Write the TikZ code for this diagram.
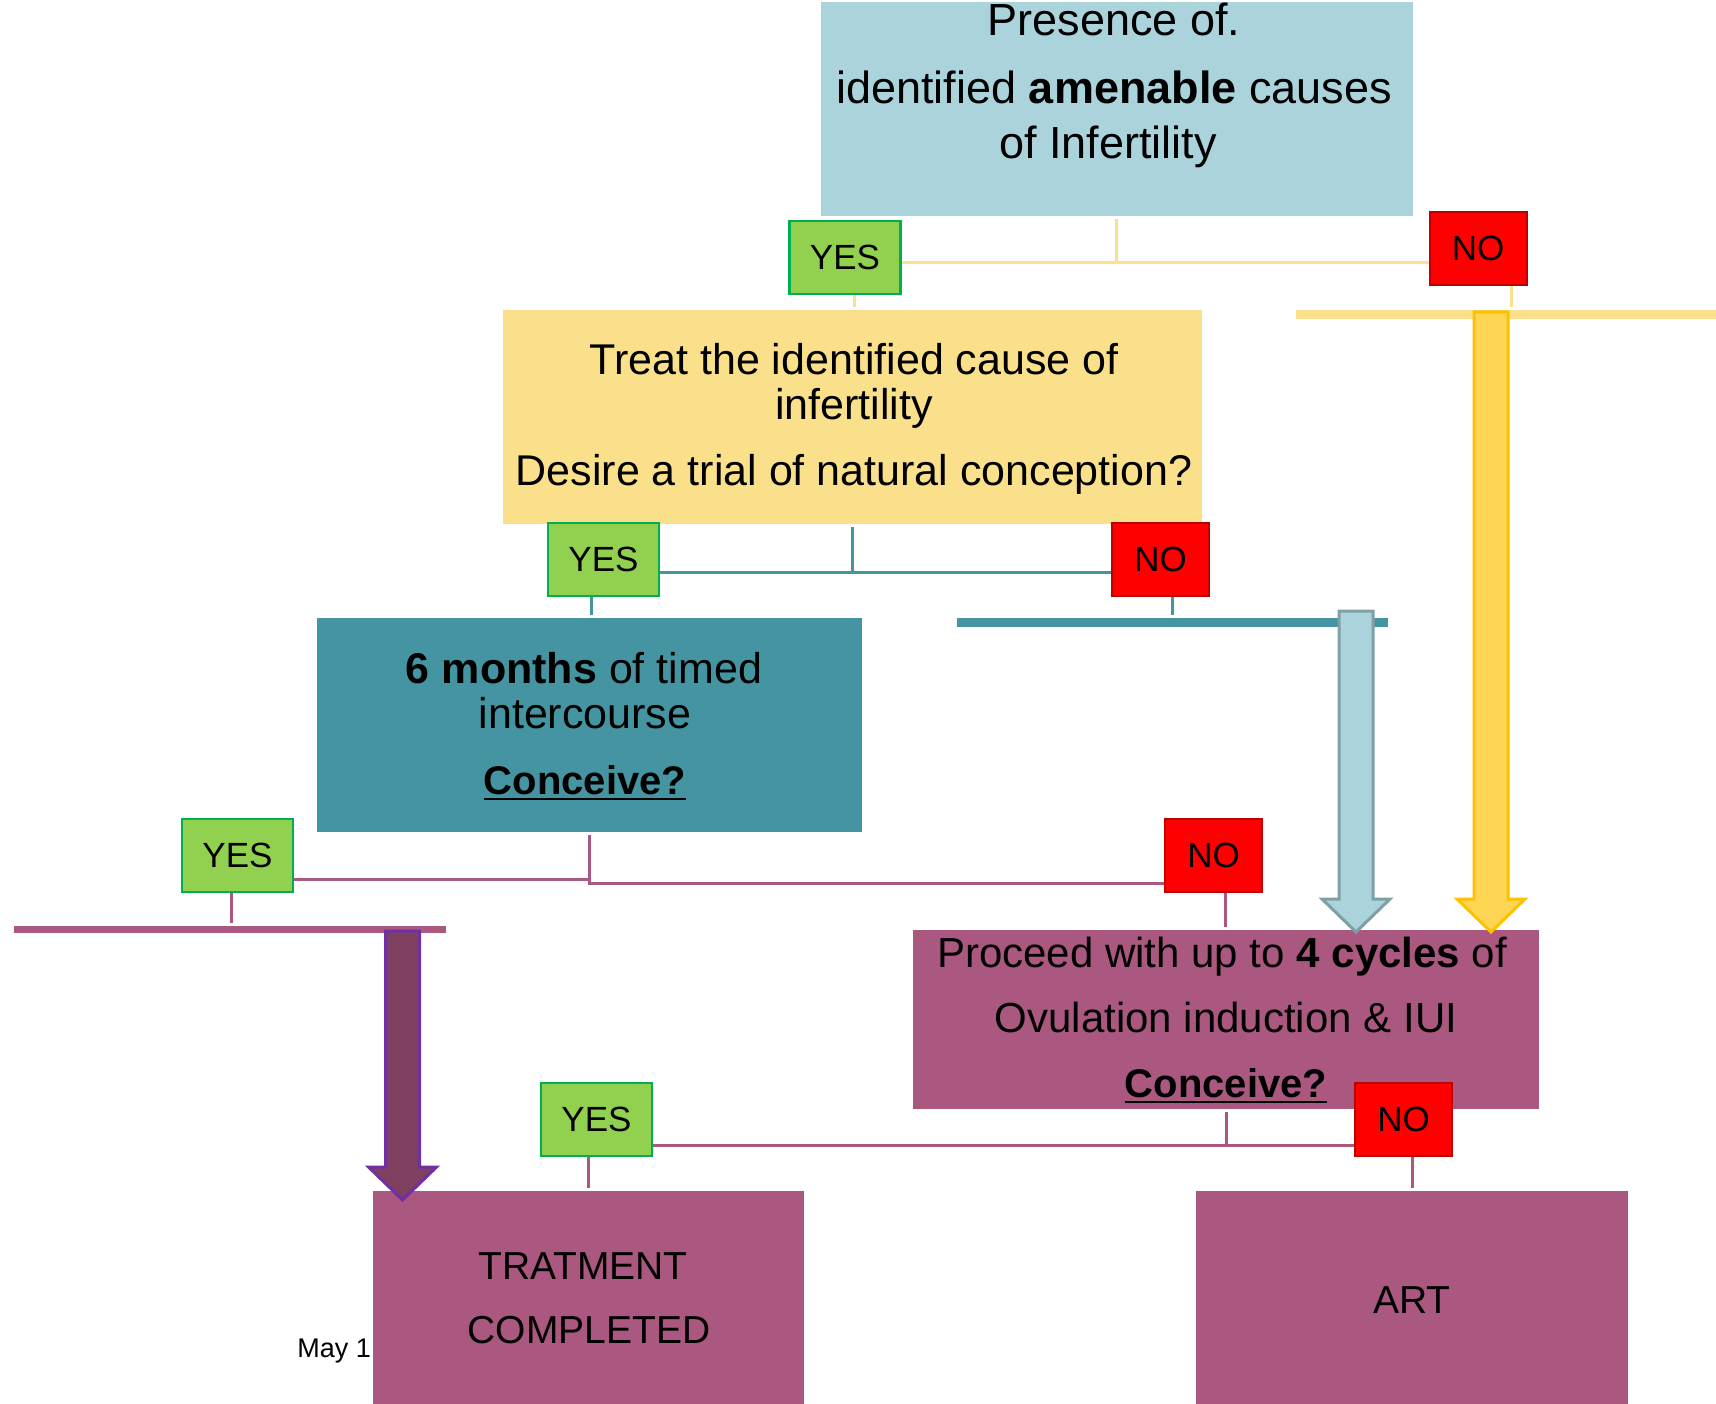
\documentclass[tikz,border=0pt]{standalone}
\usepackage{fontspec}
\setmainfont{Liberation Sans}
\usetikzlibrary{positioning}

\definecolor{causeblue}{HTML}{AAD3DB}
\definecolor{treatyellow}{HTML}{FAE08A}
\definecolor{linkyellow}{HTML}{FBE18E}
\definecolor{arrowyellow}{HTML}{FFD654}
\definecolor{arrowyellowedge}{HTML}{FFC000}
\definecolor{arrowblueedge}{HTML}{7F9FA6}
\definecolor{tealbox}{HTML}{4495A1}
\definecolor{mauve}{HTML}{AA5880}
\definecolor{arrowpurple}{HTML}{80405F}
\definecolor{arrowpurpleedge}{HTML}{7030A0}
\definecolor{yesgreen}{HTML}{92D050}
\definecolor{yesedge}{HTML}{00B050}
\definecolor{nored}{HTML}{FF0000}
\definecolor{noedge}{HTML}{C00000}

% thick underline for the questions
\newbox\ulbox
\newcommand{\ulword}[1]{\setbox\ulbox=\hbox{#1}\rlap{\vrule height -3.8pt depth 6.3pt width \wd\ulbox}\box\ulbox}

% block arrow pointing down: style, x, top, tip
\newcommand{\blockarrow}[4]{%
  \draw[#1] (#2-17,#3) -- (#2+17,#3) -- (#2+17,#4-33) -- (#2+34,#4-33)
    -- (#2,#4) -- (#2-34,#4-33) -- (#2-17,#4-33) -- cycle;}

\begin{document}
\begin{tikzpicture}[x=1pt,y=-1pt,
    box/.style={draw=none,inner sep=0pt,minimum height=214pt},
    txt/.style={anchor=base,inner sep=0pt},
    yeslab/.style={fill=yesgreen,draw=yesedge,line width=2.5pt,inner sep=0pt,
      minimum width=111pt,minimum height=73pt,font=\fontsize{35}{40}\selectfont},
    nolab/.style={fill=nored,draw=noedge,line width=2pt,inner sep=0pt,
      minimum width=97pt,minimum height=73pt,font=\fontsize{35}{40}\selectfont},
    bar/.style={inner sep=0pt,minimum height=9pt},
    link/.style={line width=3pt},
    bigarrow/.style={line width=3pt,line join=miter}]
    \useasboundingbox (0,0) rectangle (1716,1404);

    % boxes
    \node[box,fill=causeblue,minimum width=592pt] (cause) at (1117,109) {};
    \node[txt,font=\fontsize{45}{54}\selectfont] (causeA) at (1114,36) {Presence of.};
    \node[txt,font=\fontsize{45}{54}\selectfont] (causeB) at (1114,104) {identified \textbf{amenable} causes};
    \node[txt,font=\fontsize{45}{54}\selectfont] (causeC) at (1108,159) {of Infertility};

    \node[box,fill=treatyellow,minimum width=699pt] (treat) at (852.5,417) {};
    \node[txt,font=\fontsize{43}{46}\selectfont] (treatA) at (854,374) {Treat the identified cause of};
    \node[txt,font=\fontsize{43}{46}\selectfont] (treatB) at (854,420) {infertility};
    \node[txt,font=\fontsize{43}{46}\selectfont] (treatC) at (854,485) {Desire a trial of natural conception?};

    \node[box,fill=tealbox,minimum width=545pt] (months) at (589.5,725) {};
    \node[txt,font=\fontsize{43}{46}\selectfont] (monthsA) at (584,683) {\textbf{6 months} of timed};
    \node[txt,font=\fontsize{43}{46}\selectfont] (monthsB) at (585,728) {intercourse};
    \node[txt,font=\fontsize{40}{46}\selectfont] (monthsC) at (585,794) {\ulword{\textbf{Conceive?}}};

    \node[box,fill=mauve,minimum width=626pt,minimum height=179pt] (cycles) at (1226,1019.5) {};
    \node[txt,font=\fontsize{42}{46}\selectfont] (cyclesA) at (1222,967) {Proceed with up to \textbf{4 cycles} of};
    \node[txt,font=\fontsize{42}{46}\selectfont] (cyclesB) at (1226,1032) {Ovulation induction \& IUI};
    \node[txt,font=\fontsize{40}{46}\selectfont] (cyclesC) at (1226,1097) {\ulword{\textbf{Conceive?}}};

    \node[txt,anchor=base east,font=\fontsize{27}{30}\selectfont] (may) at (371,1357) {May 1};
    \node[box,fill=mauve,minimum width=431pt,minimum height=219pt] (done) at (588.5,1300.5) {};
    \node[txt,font=\fontsize{39}{44}\selectfont] (doneA) at (583,1279) {TRATMENT};
    \node[txt,font=\fontsize{39}{44}\selectfont] (doneB) at (589,1343) {COMPLETED};

    \node[box,fill=mauve,minimum width=432pt,minimum height=219pt] (art) at (1412,1300.5) {};
    \node[txt,font=\fontsize{39}{44}\selectfont] (artA) at (1412,1313) {ART};

    % bars
    \node[bar,fill=linkyellow,minimum width=420pt] (ybar) at (1506,314.5) {};
    \node[bar,fill=tealbox,minimum width=431pt] (tbar) at (1172.5,622.5) {};
    \node[bar,fill=mauve,minimum width=432pt,minimum height=7pt] (mbar) at (230,929.5) {};

    % answers
    \node[yeslab] (yesA) at (845,257.5) {YES};
    \node[nolab] (noA) at (1478,248.5) {NO};
    \node[yeslab] (yesB) at (603.5,559.5) {YES};
    \node[nolab] (noB) at (1160.5,559.5) {NO};
    \node[yeslab] (yesC) at (237.5,855.5) {YES};
    \node[nolab] (noC) at (1213.5,855.5) {NO};
    \node[yeslab] (yesD) at (596.5,1119.5) {YES};
    \node[nolab] (noD) at (1403.5,1119.5) {NO};

    % connectors
    \coordinate (jA) at (1116,263);
    \draw[link,draw=linkyellow,shorten <=3pt] (cause.south -| jA) -- (jA);
    \draw[link,draw=linkyellow] (yesA.east |- jA) -- (noA.west |- jA);
    \draw[link,draw=linkyellow,shorten >=3pt] ([xshift=9pt]yesA.south) -- ([xshift=9pt]yesA.south |- treat.north);
    \draw[link,draw=linkyellow,shorten >=3pt] ([xshift=33pt]noA.south) -- ([xshift=33pt]noA.south |- ybar.north);

    \coordinate (jB) at (852.5,572);
    \draw[link,draw=tealbox,shorten <=3pt] (treat.south) -- (jB);
    \draw[link,draw=tealbox] (yesB.east |- jB) -- (noB.west |- jB);
    \draw[link,draw=tealbox,shorten >=3pt] ([xshift=-12.5pt]yesB.south) -- ([xshift=-12.5pt]yesB.south |- months.north);
    \draw[link,draw=tealbox,shorten >=3pt] ([xshift=11.5pt]noB.south) -- ([xshift=11.5pt]noB.south |- tbar.north);

    \coordinate (jC) at (589.5,883);
    \coordinate (jCl) at (589.5,879);
    \draw[link,draw=mauve,shorten <=3pt] (months.south) -- (jC) -- (noC.west |- jC);
    \draw[link,draw=mauve] (jCl) -- (yesC.east |- jCl);
    \draw[link,draw=mauve,shorten >=3pt] ([xshift=-6.5pt]yesC.south) -- ([xshift=-6.5pt]yesC.south |- mbar.north);
    \draw[link,draw=mauve,shorten >=3pt] ([xshift=11.5pt]noC.south) -- ([xshift=11.5pt]noC.south |- cycles.north);

    \coordinate (jD) at (1226,1145);
    \draw[link,draw=mauve,shorten <=3pt] (cycles.south) -- (jD);
    \draw[link,draw=mauve] (yesD.east |- jD) -- (noD.west |- jD);
    \draw[link,draw=mauve,shorten >=3pt] ([xshift=-8.5pt]yesD.south) -- ([xshift=-8.5pt]yesD.south |- done.north);
    \draw[link,draw=mauve,shorten >=3pt] ([xshift=8.5pt]noD.south) -- ([xshift=8.5pt]noD.south |- art.north);

    % big arrows
    \blockarrow{bigarrow,fill=arrowyellow,draw=arrowyellowedge}{1491}{312}{932}
    \blockarrow{bigarrow,fill=causeblue,draw=arrowblueedge}{1356}{611}{932}
    \blockarrow{bigarrow,fill=arrowpurple,draw=arrowpurpleedge}{402.5}{931}{1200}
\end{tikzpicture}
\end{document}
